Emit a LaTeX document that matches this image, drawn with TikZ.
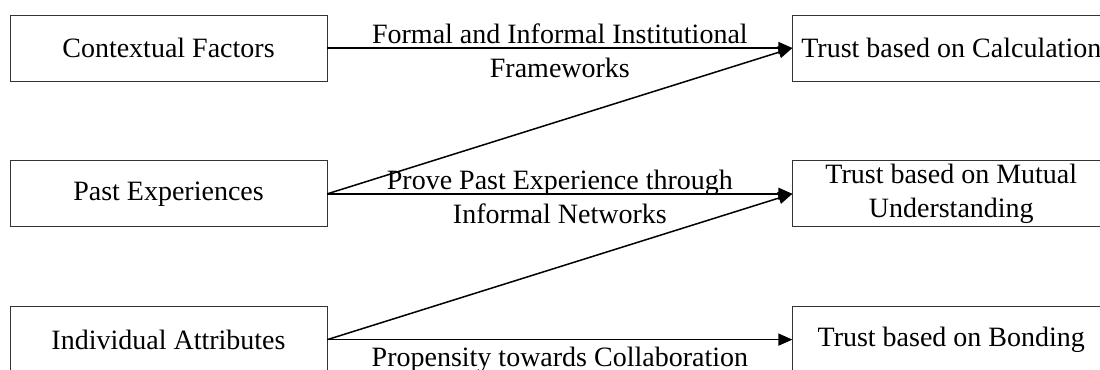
\documentclass[tikz,border=0pt]{standalone}
\usepackage{fontspec}
\setmainfont{Liberation Serif}
\usetikzlibrary{positioning,arrows.meta,calc}

\begin{document}
\begin{tikzpicture}[
  node distance=39.5pt and 232.5pt,
  every node/.style={font=\fontsize{14}{17}\selectfont,align=center},
  factor/.style={draw=black!80,thin,minimum width=158.5pt,minimum height=33pt,inner sep=1pt},
  trust/.style={factor},
  edge/.style={-{Triangle[length=7pt,width=6pt]},line width=0.75pt},
  lbl/.style={inner sep=0pt}
 ]
  \path[use as bounding box,clip] (-84.25pt,24pt) rectangle (465.75pt,-161pt);
  \node[factor] (ctx) {Contextual Factors};
  \node[factor,below=of ctx] (past) {Past Experiences};
  \node[factor,below=of past] (indiv) {Individual Attributes};
  \node[trust,right=of ctx] (calc) {Trust based on Calculation};
  \node[trust,right=of past] (mutual) {Trust based on Mutual\\Understanding};
  \node[trust,right=of indiv] (bond) {Trust based on Bonding};
  \draw[edge] (ctx) -- node[lbl,midway,yshift=-1.5pt] {Formal and Informal Institutional\\Frameworks} (calc);
  \draw[edge] (past.east) -- (calc.west);
  \draw[edge] (past) -- node[lbl,midway,yshift=-1.5pt] {Prove Past Experience through\\Informal Networks} (mutual);
  \draw[edge] (indiv.east) -- (mutual.west);
  \draw[edge] (indiv) -- node[lbl,midway,below=3.5pt] {Propensity towards Collaboration} (bond);
 \end{tikzpicture}
\end{document}
